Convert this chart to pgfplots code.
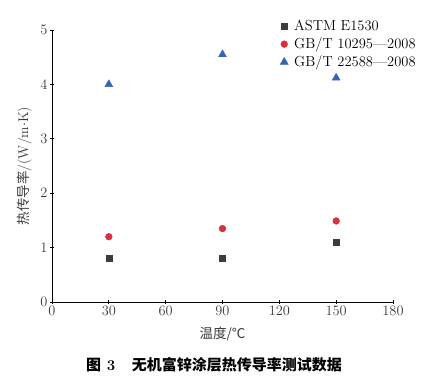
\documentclass[border=0pt]{standalone}
\usepackage{fontspec}
\usepackage{pgfplots}
\pgfplotsset{compat=1.18}
\newfontfamily\cjk{Noto Sans CJK SC}
\definecolor{txt}{HTML}{3A3A3A}
\definecolor{sqc}{HTML}{3C3C3C}
\definecolor{rdc}{HTML}{D4323C}
\definecolor{blc}{HTML}{3465B4}
\begin{document}
\begin{tikzpicture}
\useasboundingbox (-52pt,-75pt) rectangle (374pt,302pt);
\begin{axis}[
  at={(0pt,0pt)}, anchor=origin,
  scale only axis, width=341pt, height=272pt,
  xmin=0, xmax=180, ymin=0, ymax=5,
  axis lines=left, axis line style={-, black, line width=0.8pt},
  xtick={0,30,...,180}, ytick={0,1,...,5},
  tick style={black, line width=0.7pt}, major tick length=4pt,
  tick label style={font=\fontsize{14.5}{16}\selectfont, text=txt},
  xticklabel style={yshift=1pt},
  yticklabel style={xshift=1pt},
  xlabel={\cjk\fontsize{13.5}{15}\selectfont 温度/℃},
  ylabel={{\cjk\fontsize{13.5}{15}\selectfont 热传导率}{\fontsize{14}{15}\selectfont/(W/m$\cdot$K)}},
  xlabel style={text=txt, yshift=-4pt},
  ylabel style={text=txt, yshift=2pt},
  legend style={draw=none, fill=none, at={(rel axis cs:0.66,1.05)}, anchor=north west,
    font=\fontsize{14.5}{16}\selectfont, row sep=1.5pt, text=black,
    /tikz/every odd column/.append style={column sep=4pt}},
  legend cell align=left,
  clip=false,
]
\addplot[only marks, mark=square*, mark size=3.0pt, color=sqc] coordinates {(30,0.80) (90,0.80) (150,1.10)};
\addlegendentry{ASTM E1530}
\addplot[only marks, mark=*, mark size=3.4pt, color=rdc] coordinates {(30,1.20) (90,1.35) (150,1.49)};
\addlegendentry{GB/T 10295---2008}
\addplot[only marks, mark=triangle*, mark size=4.6pt, color=blc] coordinates {(30,4.00) (90,4.55) (150,4.12)};
\addlegendentry{GB/T 22588---2008}
\end{axis}
\node[font=\fontsize{15}{17}\selectfont, text=black] at (162pt,-63pt) {\textbf{{\cjk\bfseries 图} 3}\hspace{1.1em}{\cjk\bfseries 无机富锌涂层热传导率测试数据}};
\end{tikzpicture}
\end{document}
